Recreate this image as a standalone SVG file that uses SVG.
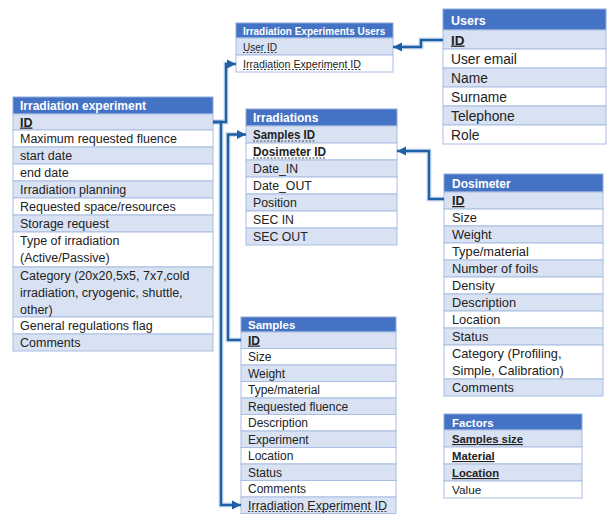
<svg xmlns="http://www.w3.org/2000/svg" width="608" height="517" viewBox="0 0 608 517">
<style>
text{font-family:"Liberation Sans",Arial,sans-serif;fill:#222}
.h{fill:#4472C4;stroke:#8EAADB;stroke-width:1}
.ht{fill:#fff;font-weight:bold}
.l{fill:#D9E2F3;stroke:#A9BEE2;stroke-width:1}
.w{fill:#fff;stroke:#A9BEE2;stroke-width:1}
.b{font-weight:bold}
.u{text-decoration:underline}
.dash{stroke:#444;stroke-width:1;stroke-dasharray:2 1.5}
.c{fill:none;stroke:#1F5FA6;stroke-width:2.5;stroke-linejoin:miter}
.cs{fill:none;stroke:#9DB9DD;stroke-width:5;opacity:0.45}
</style>
<defs>
<marker id="arr" markerUnits="userSpaceOnUse" markerWidth="10" markerHeight="10" refX="9" refY="5" orient="auto">
<path d="M0,0.5 L9,5 L0,9.5 Z" fill="#1F5FA6"/>
</marker>
</defs>
<rect width="608" height="517" fill="#fff"/>

<g id="irradiation-experiments-users">
<rect class="h" x="236" y="23" width="157" height="15"/>
<text class="ht" x="243" y="34.5" font-size="10">Irradiation Experiments Users</text>
<rect class="l" x="236" y="38" width="157" height="17"/>
<rect class="w" x="236" y="55" width="157" height="17"/>
<text x="243" y="50.5" font-size="11" textLength="34" lengthAdjust="spacingAndGlyphs">User ID</text>
<line class="dash" x1="243" y1="52.5" x2="277" y2="52.5"/>
<text x="243" y="67.5" font-size="11" textLength="118" lengthAdjust="spacingAndGlyphs">Irradiation Experiment ID</text>
<line class="dash" x1="243" y1="69.5" x2="361" y2="69.5"/>
</g>

<g id="users">
<rect class="h" x="443" y="9" width="163" height="21"/>
<text class="ht" x="451" y="24.5" font-size="12.5">Users</text>
<rect class="l" x="443" y="30" width="163" height="19"/>
<rect class="w" x="443" y="49" width="163" height="19"/>
<rect class="l" x="443" y="68" width="163" height="19"/>
<rect class="w" x="443" y="87" width="163" height="19"/>
<rect class="l" x="443" y="106" width="163" height="19"/>
<rect class="w" x="443" y="125" width="163" height="19"/>
<text class="b u" x="451" y="44.5" font-size="13.5">ID</text>
<text x="451" y="63.5" font-size="13.8">User email</text>
<text x="451" y="82.5" font-size="13.8">Name</text>
<text x="451" y="101.5" font-size="13.8">Surname</text>
<text x="451" y="120.5" font-size="13.8">Telephone</text>
<text x="451" y="139.5" font-size="13.8">Role</text>
</g>

<g id="irradiation-experiment">
<rect class="h" x="13" y="97" width="200" height="17"/>
<text class="ht" x="20" y="110" font-size="12">Irradiation experiment</text>
<rect class="l" x="13" y="114" width="200" height="16"/>
<rect class="w" x="13" y="130" width="200" height="17"/>
<rect class="l" x="13" y="147" width="200" height="17"/>
<rect class="w" x="13" y="164" width="200" height="17"/>
<rect class="l" x="13" y="181" width="200" height="17"/>
<rect class="w" x="13" y="198" width="200" height="17"/>
<rect class="l" x="13" y="215" width="200" height="17"/>
<rect class="w" x="13" y="232" width="200" height="35"/>
<rect class="l" x="13" y="267" width="200" height="50"/>
<rect class="w" x="13" y="317" width="200" height="17"/>
<rect class="l" x="13" y="334" width="200" height="17"/>
<text class="b u" x="20" y="126.5" font-size="12.5">ID</text>
<text x="20" y="143" font-size="12.5">Maximum requested fluence</text>
<text x="20" y="160" font-size="12.5">start date</text>
<text x="20" y="177" font-size="12.5">end date</text>
<text x="20" y="194" font-size="12.5">Irradiation planning</text>
<text x="20" y="211" font-size="12.5">Requested space/resources</text>
<text x="20" y="228" font-size="12.5">Storage request</text>
<text x="20" y="245" font-size="12.5">Type of irradiation</text>
<text x="20" y="262" font-size="12.5">(Active/Passive)</text>
<text x="20" y="280" font-size="12.5">Category (20x20,5x5, 7x7,cold</text>
<text x="20" y="297" font-size="12.5">irradiation, cryogenic, shuttle,</text>
<text x="20" y="314" font-size="12.5">other)</text>
<text x="20" y="330" font-size="12.5">General regulations flag</text>
<text x="20" y="347" font-size="12.5">Comments</text>
</g>

<g id="irradiations">
<rect class="h" x="246" y="109" width="151" height="17"/>
<text class="ht" x="253" y="122" font-size="12">Irradiations</text>
<rect class="l" x="246" y="126" width="151" height="17"/>
<rect class="w" x="246" y="143" width="151" height="17"/>
<rect class="l" x="246" y="160" width="151" height="17"/>
<rect class="w" x="246" y="177" width="151" height="17"/>
<rect class="l" x="246" y="194" width="151" height="17"/>
<rect class="w" x="246" y="211" width="151" height="17"/>
<rect class="l" x="246" y="228" width="151" height="17"/>
<text class="b" x="253" y="139" font-size="12" textLength="62" lengthAdjust="spacingAndGlyphs">Samples ID</text>
<line class="dash" x1="253" y1="141" x2="315" y2="141"/>
<text class="b" x="253" y="156" font-size="12" textLength="73" lengthAdjust="spacingAndGlyphs">Dosimeter ID</text>
<line class="dash" x1="253" y1="158" x2="326" y2="158"/>
<text x="253" y="173" font-size="12.3">Date_IN</text>
<text x="253" y="190" font-size="12.3">Date_OUT</text>
<text x="253" y="207" font-size="12.3">Position</text>
<text x="253" y="224" font-size="12.3">SEC IN</text>
<text x="253" y="241" font-size="12.3">SEC OUT</text>
</g>

<g id="dosimeter">
<rect class="h" x="444" y="174" width="159" height="18"/>
<text class="ht" x="452" y="187.5" font-size="12">Dosimeter</text>
<rect class="l" x="444" y="192" width="159" height="17"/>
<rect class="w" x="444" y="209" width="159" height="17"/>
<rect class="l" x="444" y="226" width="159" height="17"/>
<rect class="w" x="444" y="243" width="159" height="17"/>
<rect class="l" x="444" y="260" width="159" height="17"/>
<rect class="w" x="444" y="277" width="159" height="17"/>
<rect class="l" x="444" y="294" width="159" height="17"/>
<rect class="w" x="444" y="311" width="159" height="17"/>
<rect class="l" x="444" y="328" width="159" height="17"/>
<rect class="w" x="444" y="345" width="159" height="34"/>
<rect class="l" x="444" y="379" width="159" height="17"/>
<text class="b u" x="452" y="205" font-size="12.5">ID</text>
<text x="452" y="222" font-size="12.8">Size</text>
<text x="452" y="239" font-size="12.8">Weight</text>
<text x="452" y="256" font-size="12.8">Type/material</text>
<text x="452" y="273" font-size="12.8">Number of foils</text>
<text x="452" y="290" font-size="12.8">Density</text>
<text x="452" y="307" font-size="12.8">Description</text>
<text x="452" y="324" font-size="12.8">Location</text>
<text x="452" y="341" font-size="12.8">Status</text>
<text x="452" y="358" font-size="12.8">Category (Profiling,</text>
<text x="452" y="375" font-size="12.8">Simple, Calibration)</text>
<text x="452" y="392" font-size="12.8">Comments</text>
</g>

<g id="samples">
<rect class="h" x="241" y="317" width="155" height="15"/>
<text class="ht" x="248" y="329" font-size="11.5">Samples</text>
<rect class="l" x="241" y="332" width="155" height="16.5"/>
<rect class="w" x="241" y="348.5" width="155" height="16.5"/>
<rect class="l" x="241" y="365" width="155" height="16.5"/>
<rect class="w" x="241" y="381.5" width="155" height="16.5"/>
<rect class="l" x="241" y="398" width="155" height="16.5"/>
<rect class="w" x="241" y="414.5" width="155" height="16.5"/>
<rect class="l" x="241" y="431" width="155" height="16.5"/>
<rect class="w" x="241" y="447.5" width="155" height="16.5"/>
<rect class="l" x="241" y="464" width="155" height="16.5"/>
<rect class="w" x="241" y="480.5" width="155" height="16.5"/>
<rect class="l" x="241" y="497" width="155" height="16.5"/>
<text class="b u" x="248" y="344.5" font-size="12">ID</text>
<text x="248" y="361" font-size="12">Size</text>
<text x="248" y="377.5" font-size="12">Weight</text>
<text x="248" y="394" font-size="12">Type/material</text>
<text x="248" y="410.5" font-size="12">Requested fluence</text>
<text x="248" y="427" font-size="12">Description</text>
<text x="248" y="443.5" font-size="12">Experiment</text>
<text x="248" y="460" font-size="12">Location</text>
<text x="248" y="476.5" font-size="12">Status</text>
<text x="248" y="493" font-size="12">Comments</text>
<text x="248" y="509.5" font-size="12.5" textLength="139" lengthAdjust="spacingAndGlyphs">Irradiation Experiment ID</text>
<line class="dash" x1="248" y1="511.5" x2="387" y2="511.5"/>
</g>

<g id="factors">
<rect class="h" x="444" y="414" width="138" height="16"/>
<text class="ht" x="452" y="426.5" font-size="11.5">Factors</text>
<rect class="l" x="444" y="430" width="138" height="17"/>
<rect class="w" x="444" y="447" width="138" height="17"/>
<rect class="l" x="444" y="464" width="138" height="17"/>
<rect class="w" x="444" y="481" width="138" height="17"/>
<text class="b u" x="452" y="443" font-size="11.3">Samples size</text>
<text class="b u" x="452" y="460" font-size="11.3">Material</text>
<text class="b u" x="452" y="477" font-size="11.3">Location</text>
<text x="452" y="494" font-size="11.8">Value</text>
</g>

<g id="connectors">
<path class="cs" d="M213,122 H226 V64 H230"/>
<path class="cs" d="M213,122 H221 V505 H235"/>
<path class="cs" d="M241,340 H228 V134.5 H240"/>
<path class="cs" d="M443,40 H421 V47 H399"/>
<path class="cs" d="M444,199 H429 V151 H403"/>
<path class="c" d="M213,122 H226 V64 H236" marker-end="url(#arr)"/>
<path class="c" d="M213,122 H221 V505 H241" marker-end="url(#arr)"/>
<path class="c" d="M241,340 H228 V134.5 H246" marker-end="url(#arr)"/>
<path class="c" d="M443,40 H421 V47 H393" marker-end="url(#arr)"/>
<path class="c" d="M444,199 H429 V151 H397" marker-end="url(#arr)"/>
</g>
</svg>
